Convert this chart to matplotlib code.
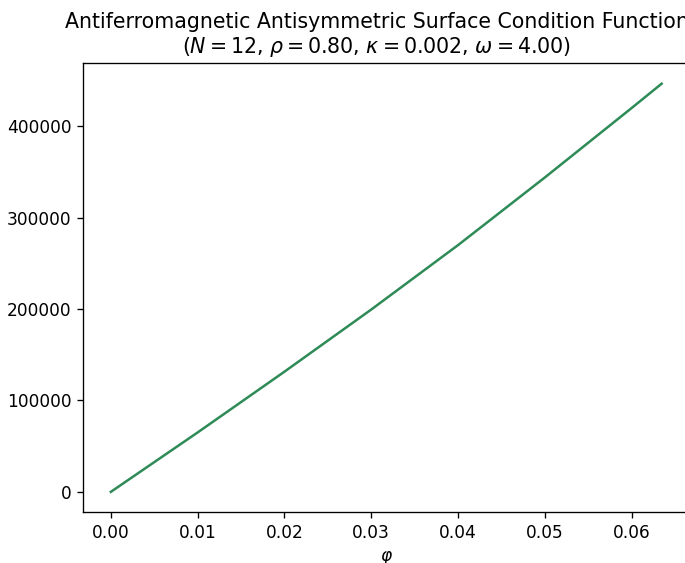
import matplotlib
matplotlib.use("Agg")
import matplotlib.pyplot as plt

phi = [0.0, 0.01, 0.02, 0.03, 0.04, 0.05, 0.06, 0.06344]
values = [0, 65000, 131500, 199500, 270000, 344000, 420000, 446500]

title = ("Antiferromagnetic Antisymmetric Surface Condition Function\n"
         r"($N = 12$, $\rho = 0.80$, $\kappa = 0.002$, $\omega = 4.00$)")

plt.rcParams["font.size"] = 10.2
fig = plt.figure(figsize=(685 / 120, 563 / 120), dpi=120)
ax = fig.add_axes([0.1216, 0.0901, 0.8845, 0.7975])
ax.plot(phi, values, color="seagreen")
ax.set_xlabel(r"$\varphi$")
ax.set_title(title, fontsize=12.3, x=0.484)
fig.savefig("out.png", dpi=120)
